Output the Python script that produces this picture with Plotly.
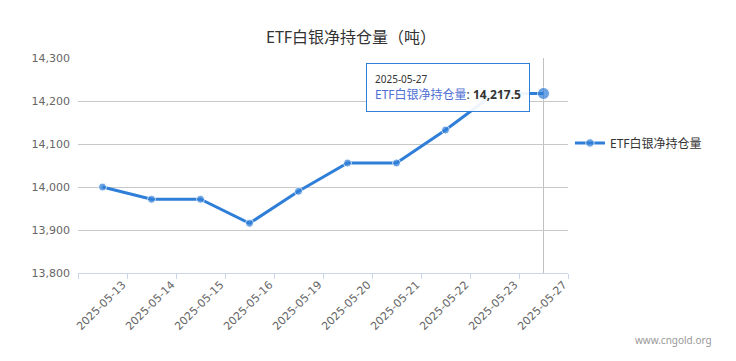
import plotly.graph_objects as go

dates = ["2025-05-13", "2025-05-14", "2025-05-15", "2025-05-16", "2025-05-19",
         "2025-05-20", "2025-05-21", "2025-05-22", "2025-05-23", "2025-05-27"]
holdings = [14000.0, 13971.5, 13971.5, 13915.6, 13990.0,
            14055.8, 14055.8, 14132.6, 14217.5, 14217.5]
series_name = "ETF白银净持仓量"
title_text = "ETF白银净持仓量（吨）"
y_ticks = [13800, 13900, 14000, 14100, 14200, 14300]

BLUE = "#2f7ed8"
FONT = "Noto Sans, Noto Sans CJK SC, sans-serif"
TICKFONT = "DejaVu Sans, Noto Sans CJK SC, sans-serif"

hover_idx = len(dates) - 1

# the page body has an 8px margin; compensate so the plot area sits at 78..568 / 58..273
L, T, PW, PH = 70, 50, 490, 215
W, H = 736, 361

fig = go.Figure()
fig.add_trace(go.Scatter(
    x=dates, y=holdings, mode="lines+markers", name=series_name,
    line=dict(color=BLUE, width=3),
    marker=dict(color=BLUE, size=[8] * hover_idx + [12]),
    hoverinfo="skip",
))

fig.update_layout(
    width=W, height=H,
    margin=dict(l=L, r=W - L - PW, t=T, b=H - T - PH, autoexpand=False),
    paper_bgcolor="white", plot_bgcolor="white",
    font=dict(family=FONT, size=12, color="#333"),
    showlegend=True,
    legend=dict(x=1.004, y=0.605, xanchor="left", yanchor="middle",
                font=dict(size=12, color="#333"), bgcolor="rgba(0,0,0,0)",
                itemwidth=30),
    xaxis=dict(type="category", range=[-0.5, len(dates) - 0.5],
               tickson="boundaries", ticks="outside", ticklen=5,
               tickcolor="#ccd6eb", showline=True, linecolor="#ccd6eb",
               linewidth=1, showgrid=False, tickangle=-45,
               ticklabelshift=20,
               tickfont=dict(family=TICKFONT, size=11, color="#666"), fixedrange=True),
    yaxis=dict(range=[13800, 14300], tickvals=y_ticks,
               tickformat=",", showgrid=True, gridcolor="#c8c8c8",
               gridwidth=1, zeroline=False, showline=False,
               tickfont=dict(family=TICKFONT, size=11, color="#666"), ticks="",
               ticklabelstandoff=7),
)

# title
fig.add_annotation(xref="paper", yref="paper", x=0.557, y=1.0, yshift=21,
                   text=title_text, showarrow=False,
                   font=dict(size=16, color="#333"), xanchor="center", yanchor="middle")

# crosshair at hovered point
fig.add_shape(type="line", xref="x", yref="paper",
              x0=dates[hover_idx], x1=dates[hover_idx], y0=0, y1=1,
              line=dict(color="#c0c0c0", width=1), layer="below")

# tooltip
tip = ("<span style='font-size:10px;color:#333'>" + dates[hover_idx] + "</span><br>"
       "<span style='color:#4f6fd4'>" + series_name + "</span>: "
       "<b>" + f"{holdings[hover_idx]:,.1f}" + "</b>")
fig.add_annotation(x=dates[hover_idx], y=holdings[hover_idx], xref="x", yref="y",
                   text=tip, showarrow=False, align="left",
                   xanchor="right", yanchor="middle", xshift=-14, yshift=6,
                   bgcolor="rgba(255,255,255,0.92)", bordercolor=BLUE, borderwidth=1,
                   borderpad=8, font=dict(size=12, color="#333"))

# watermark
fig.add_annotation(xref="paper", yref="paper", x=(706 - L) / PW, y=-(340 - 8 - T - PH) / PH,
                   text="www.cngold.org", showarrow=False,
                   font=dict(size=10, color="#999"), xanchor="right", yanchor="middle")

# right page edge
fig.add_shape(type="line", xref="paper", yref="paper",
              x0=(722 - L) / PW, x1=(722 - L) / PW, y0=-(H - T - PH) / PH, y1=1 + T / PH,
              line=dict(color="#e6e6e6", width=1))

fig.write_html("out.html")
